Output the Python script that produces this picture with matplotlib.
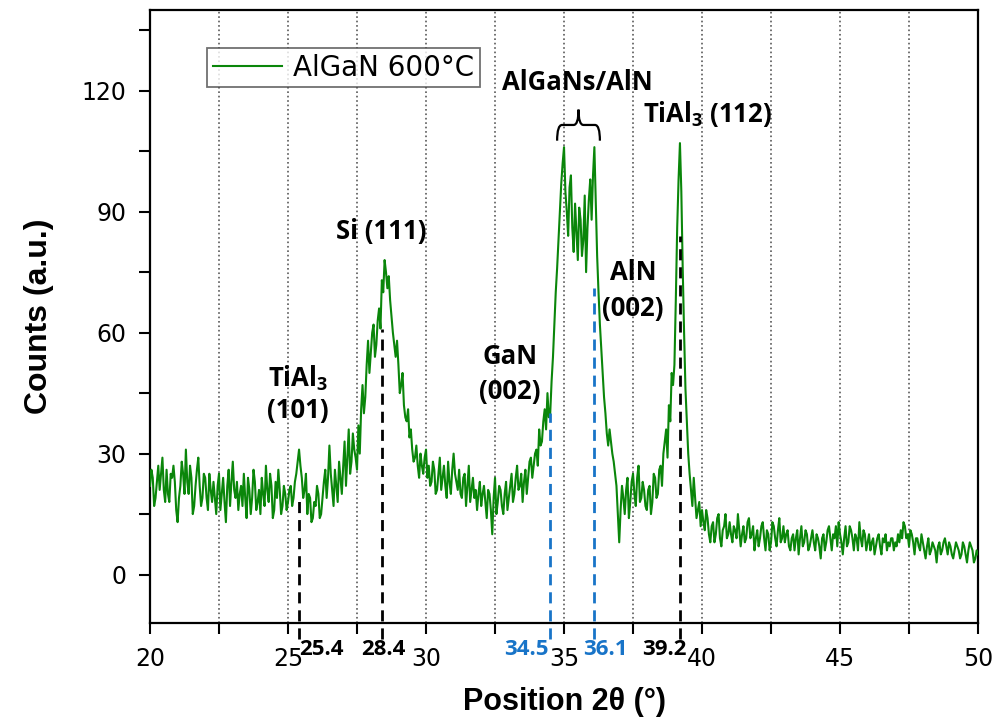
import numpy as np
import matplotlib
matplotlib.use("Agg")
import matplotlib.pyplot as plt
from matplotlib.path import Path
from matplotlib.patches import PathPatch

plt.rcParams['mathtext.fontset'] = 'custom'
plt.rcParams['mathtext.rm'] = 'Open Sans'
plt.rcParams['mathtext.bf'] = 'Open Sans:bold'

# counts, 0.05 deg step, one row per degree (20.00 ... 49.95, then 50.00)
counts = [
    22, 26, 24, 17, 19, 23, 27, 21, 25, 29, 21, 18, 26, 20, 18, 25, 24, 27, 23, 16,   # 20
    13, 19, 22, 28, 25, 20, 31, 23, 20, 27, 24, 15, 17, 22, 26, 29, 22, 17, 19, 25,   # 21
    24, 19, 16, 25, 21, 18, 23, 19, 15, 22, 25, 16, 20, 24, 18, 13, 22, 26, 17, 23,   # 22
    28, 21, 19, 23, 16, 20, 22, 17, 25, 19, 14, 24, 21, 15, 19, 26, 23, 16, 18, 21,   # 23
    15, 24, 20, 17, 27, 21, 18, 25, 22, 14, 16, 23, 19, 26, 21, 15, 17, 22, 20, 16,   # 24
    18, 21, 22, 17, 19, 23, 25, 28, 31, 27, 24, 19, 21, 25, 15, 20, 19, 13, 14, 18,   # 25
    17, 22, 20, 14, 15, 19, 23, 26, 19, 24, 32, 25, 21, 17, 26, 22, 18, 28, 24, 20,   # 26
    27, 33, 22, 29, 36, 25, 28, 35, 31, 29, 26, 37, 30, 41, 47, 40, 44, 52, 58, 50,   # 27
    55, 60, 62, 54, 57, 63, 66, 61, 73, 70, 78, 75, 71, 74, 68, 64, 60, 57, 54, 58,   # 28
    52, 45, 47, 50, 42, 39, 38, 41, 34, 36, 31, 28, 29, 32, 27, 24, 30, 27, 25, 29,   # 29
    31, 24, 27, 22, 23, 28, 26, 20, 21, 25, 29, 21, 24, 27, 22, 19, 28, 23, 20, 26,   # 30
    30, 25, 23, 21, 26, 20, 19, 24, 25, 17, 22, 27, 18, 21, 24, 19, 21, 16, 20, 23,   # 31
    17, 20, 22, 18, 14, 21, 20, 16, 10, 19, 24, 15, 18, 22, 21, 17, 15, 20, 23, 16,   # 32
    19, 22, 25, 18, 20, 24, 27, 21, 22, 25, 18, 23, 26, 20, 24, 28, 29, 24, 27, 30,   # 33
    31, 27, 36, 32, 33, 38, 41, 36, 45, 39, 40, 48, 54, 62, 70, 76, 83, 90, 97, 102,  # 34
    106, 95, 90, 84, 96, 99, 86, 80, 92, 85, 78, 91, 88, 79, 83, 94, 75, 86, 93, 98,  # 35
    88, 99, 106, 92, 79, 70, 62, 56, 50, 44, 40, 35, 32, 36, 33, 30, 28, 25, 22, 15,  # 36
    8, 16, 22, 19, 15, 21, 24, 14, 18, 23, 25, 20, 17, 24, 27, 18, 19, 23, 21, 17,    # 37
    16, 21, 22, 15, 18, 25, 24, 19, 20, 26, 27, 22, 30, 33, 36, 29, 42, 38, 50, 47,   # 38
    52, 68, 86, 98, 107, 95, 76, 60, 46, 38, 30, 25, 21, 17, 24, 19, 14, 16, 18, 12,  # 39
    16, 13, 11, 16, 14, 10, 8, 12, 13, 8, 10, 14, 15, 9, 7, 11, 12, 15, 9, 10,        # 40
    13, 10, 8, 12, 11, 9, 15, 11, 7, 10, 12, 8, 9, 13, 14, 9, 10, 12, 6, 9,           # 41
    11, 7, 9, 12, 13, 9, 6, 11, 10, 6, 8, 13, 12, 9, 7, 11, 14, 8, 9, 12,             # 42
    8, 10, 11, 7, 6, 9, 10, 6, 9, 11, 5, 9, 12, 7, 8, 11, 10, 6, 7, 9,                # 43
    11, 8, 6, 10, 9, 7, 4, 9, 10, 6, 8, 11, 12, 9, 6, 10, 9, 12, 7, 13,               # 44
    10, 8, 5, 9, 12, 7, 8, 12, 11, 9, 6, 10, 9, 6, 13, 9, 7, 11, 10, 6,               # 45
    8, 10, 6, 8, 9, 5, 7, 9, 10, 7, 5, 9, 8, 10, 6, 8, 7, 9, 9, 6,                    # 46
    8, 7, 10, 8, 11, 9, 13, 12, 9, 10, 7, 11, 10, 8, 5, 9, 9, 7, 6, 10,               # 47
    8, 6, 4, 7, 9, 5, 6, 8, 7, 6, 3, 7, 8, 5, 6, 8, 9, 7, 5, 8,                       # 48
    7, 5, 4, 6, 8, 7, 6, 4, 5, 8, 7, 5, 3, 6, 8, 7, 6, 3, 4, 6,                       # 49
    5,
]
two_theta = np.linspace(20, 50, len(counts))

# marked peak positions and the height of their dashed guide lines
peak_pos = [25.4, 28.4, 34.5, 36.1, 39.2]
peak_top = [19.5, 61, 40, 71, 84]
peak_col = ['black', 'black', '#1874c8', '#1874c8', 'black']
peak_lbl = ['25.4', '28.4', '34.5', '36.1', '39.2']
peak_ha = ['left', 'center', 'right', 'center', 'right']
peak_lx = [25.42, 28.44, 34.43, 36.5, 39.46]

fig = plt.figure(figsize=(9.98, 7.27), dpi=100)
ax = fig.add_axes([0.1503, 0.1431, 0.8297, 0.8431])

ax.plot(two_theta, counts, color='#0a860a', lw=1.5, label='AlGaN 600°C', zorder=3)

for p, t, c in zip(peak_pos, peak_top, peak_col):
    ax.vlines(p, -16, t, colors=c, linestyles=(0, (4, 2.5)), lw=2, clip_on=False, zorder=4)
for lx, s, c, ha in zip(peak_lx, peak_lbl, peak_col, peak_ha):
    ax.text(lx, -18.5, s, color=c, ha=ha, va='center', fontsize=16,
            family='Open Sans', fontweight='bold', clip_on=False)

ann = dict(family='Open Sans', fontweight='bold', fontsize=18.5, ha='center', va='center')
ax.text(25.35, 48.7, r'TiAl$_\mathbf{3}$', **ann)
ax.text(25.35, 40.8, '(101)', **ann)
ax.text(28.37, 85.0, 'Si (111)', **ann)
ax.text(33.04, 54.2, 'GaN', **ann)
ax.text(33.04, 45.3, '(002)', **ann)
ax.text(37.5, 75.0, 'AlN', **ann)
ax.text(37.5, 66.0, '(002)', **ann)
ax.text(35.47, 122.0, 'AlGaNs/AlN', **ann)
ax.text(40.18, 114.3, r'TiAl$_\mathbf{3}$ (112)', **ann)

# curly brace over the two AlGaN/AlN peaks
x0, x1 = 34.75, 36.3
xm = (x0 + x1) / 2
ylo, ymid, ytop = 107.6, 111.5, 115.3
r = 0.18
verts = [(x0, ylo), (x0, ymid), (x0 + r, ymid),
         (xm - r, ymid), (xm, ymid), (xm, ytop),
         (xm, ymid), (xm + r, ymid),
         (x1 - r, ymid), (x1, ymid), (x1, ylo)]
codes = [Path.MOVETO, Path.CURVE3, Path.CURVE3,
         Path.LINETO, Path.CURVE3, Path.CURVE3,
         Path.CURVE3, Path.CURVE3,
         Path.LINETO, Path.CURVE3, Path.CURVE3]
ax.add_patch(PathPatch(Path(verts, codes), fill=False, lw=1.6, color='black', zorder=5))

ax.set_xlim(20, 50)
ax.set_ylim(-12, 140)
ax.set_xticks(np.arange(20, 51, 5))
ax.set_xticks(np.arange(22.5, 50, 5), minor=True)
ax.set_yticks(np.arange(0, 121, 30))
ax.set_yticks(np.arange(15, 136, 30), minor=True)
ax.tick_params(which='both', direction='out', length=8, width=1.5, labelsize=17,
               top=False, right=False)
ax.tick_params(axis='x', pad=9)
ax.tick_params(axis='y', pad=9)
for lab in ax.get_xticklabels() + ax.get_yticklabels():
    lab.set_family('DejaVu Sans')
ax.grid(axis='x', which='both', linestyle=':', color='0.35', lw=1.2)
for s in ax.spines.values():
    s.set_linewidth(1.6)

ax.set_xlabel('Position 2θ (°)', family='Liberation Sans', fontweight='bold', fontsize=22, labelpad=12)
ax.set_ylabel('Counts (a.u.)', family='Liberation Sans', fontweight='bold', fontsize=23, labelpad=20)

leg = ax.legend(loc='upper left', bbox_to_anchor=(0.069, 0.938), borderaxespad=0,
                prop={'family': 'DejaVu Sans', 'size': 20}, fancybox=False,
                edgecolor='0.3', handlelength=2.5, borderpad=0.2, handletextpad=0.4)
leg.get_frame().set_linewidth(1.3)

fig.savefig('out.png', dpi=100)
